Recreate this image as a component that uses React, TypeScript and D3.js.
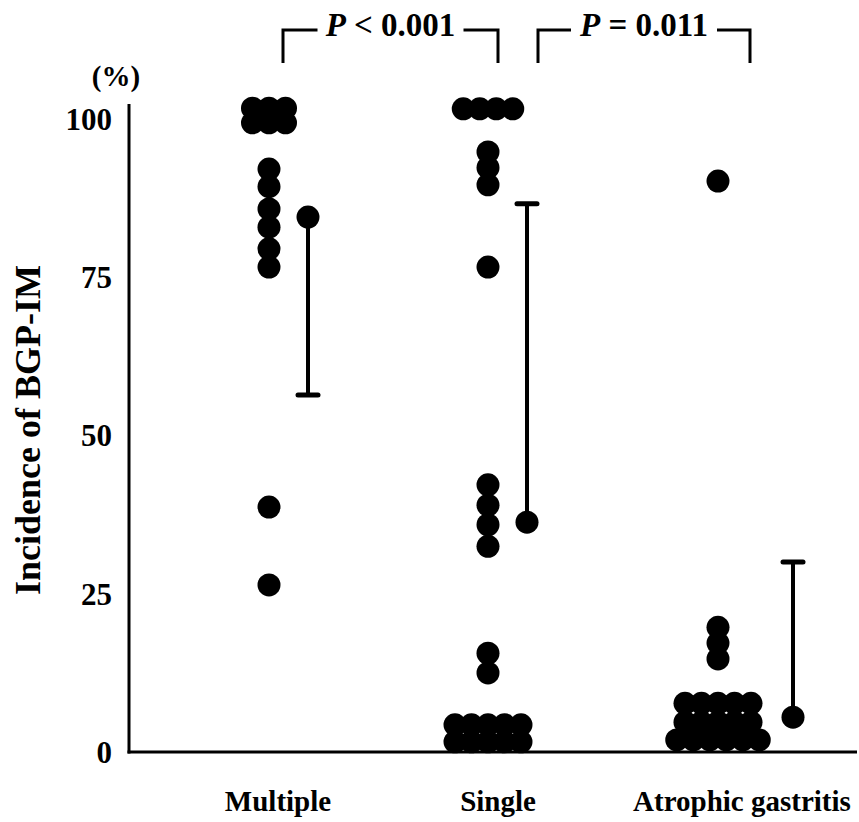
import React from "react";
import { group, scaleLinear, scaleOrdinal } from "d3";

const categories = ["Multiple", "Single", "Atrophic gastritis"];

// individual cases, %
const multipleValues = [
  101.7, 101.7, 101.7, 99.4, 99.4, 99.4, 92.1, 89.3, 85.8, 82.9, 79.5, 76.6, 38.7, 26.4,
];
const singleValues = [
  101.6, 101.6, 101.6, 101.6, 94.8, 92.3, 89.6, 76.6, 42.2, 39.0, 35.9, 32.5, 15.6, 12.5,
  4.3, 4.3, 4.3, 4.3, 4.3, 1.6, 1.6, 1.6, 1.6, 1.6,
];
const atrophicValues = [
  90.2, 19.7, 17.2, 14.7, 7.7, 7.7, 7.7, 7.7, 7.7, 4.7, 4.7, 4.7, 4.7, 4.7,
  1.9, 1.9, 1.9, 1.9, 1.9, 1.9,
];
const groupValues = [multipleValues, singleValues, atrophicValues];

// summary marker and the end of its bar
const centerValues = [84.5, 36.3, 5.5];
const barEndValues = [56.4, 86.6, 30.0];

const yTicks = [0, 25, 50, 75, 100];

const comparisons = [
  { from: "Multiple", to: "Single", sign: "<", p: "0.001" },
  { from: "Single", to: "Atrophic gastritis", sign: "=", p: "0.011" },
];

const W = 859;
const H = 822;
const axisX = 129;
const font = "'Liberation Serif', 'Times New Roman', serif";
const r = 11.5;
const step = 16.5;
const summaryShift = [39, 39, 75];
const labelShift = [9, 10, 24];
const bracketEnds = [
  [14, 10],
  [50, 32],
];

const App = () => {
  const y = scaleLinear().domain([0, 100]).range([752, 119]);
  const x = scaleOrdinal<string, number>().domain(categories).range([269, 488, 718]);

  const dots = groupValues.flatMap((vals, gi) => {
    const cx = x(categories[gi]);
    const rows = group(vals, (v) => v);
    const out: { cx: number; cy: number }[] = [];
    rows.forEach((row, v) => {
      row.forEach((_, i) => {
        out.push({ cx: cx + (i - (row.length - 1) / 2) * step, cy: y(v) });
      });
    });
    return out;
  });

  return (
    <svg
      width={W}
      height={H}
      style={{ position: "absolute", left: 0, top: 0, background: "#fff" }}
      fontFamily={font}
      fontWeight="bold"
    >
      {/* axes */}
      <line x1={axisX} x2={axisX} y1={104} y2={y(0) + 1.5} stroke="#000" strokeWidth={3} />
      <line x1={axisX - 1.5} x2={W - 2} y1={y(0)} y2={y(0)} stroke="#000" strokeWidth={3} />
      {yTicks.map((t) => (
        <text key={t} x={112} y={y(t)} dy="0.35em" textAnchor="end" fontSize={31}>
          {t}
        </text>
      ))}
      <text x={116} y={86} textAnchor="middle" fontSize={29}>
        (%)
      </text>
      <text
        transform={`translate(40,${430}) rotate(-90)`}
        textAnchor="middle"
        fontSize={36}
      >
        Incidence of BGP-IM
      </text>

      {categories.map((c, i) => (
        <text key={c} x={x(c) + labelShift[i]} y={811} textAnchor="middle" fontSize={29}>
          {c}
        </text>
      ))}

      {/* cases */}
      {dots.map((d, i) => (
        <circle key={i} cx={d.cx} cy={d.cy} r={r} fill="#000" />
      ))}

      {/* summary markers */}
      {categories.map((c, i) => {
        const sx = x(c) + summaryShift[i];
        return (
          <g key={c}>
            <line x1={sx} x2={sx} y1={y(centerValues[i])} y2={y(barEndValues[i])} stroke="#000" strokeWidth={4} />
            <line x1={sx - 10} x2={sx + 10} y1={y(barEndValues[i])} y2={y(barEndValues[i])} stroke="#000" strokeWidth={5} strokeLinecap="round" />
            <circle cx={sx} cy={y(centerValues[i])} r={r} fill="#000" />
          </g>
        );
      })}

      {/* comparisons */}
      {comparisons.map((cmp, i) => {
        const x0 = x(cmp.from) + bracketEnds[i][0];
        const x1 = x(cmp.to) + bracketEnds[i][1];
        const mid = (x0 + x1) / 2;
        const gap = 73;
        return (
          <g key={i}>
            <path
              d={`M${x0},63V30H${mid - gap}M${mid + gap},30H${x1}V63`}
              fill="none"
              stroke="#000"
              strokeWidth={3}
            />
            <text x={mid} y={36} textAnchor="middle" fontSize={33}>
              <tspan fontStyle="italic">P</tspan>
              {` ${cmp.sign} ${cmp.p}`}
            </text>
          </g>
        );
      })}
    </svg>
  );
};

export default App;
